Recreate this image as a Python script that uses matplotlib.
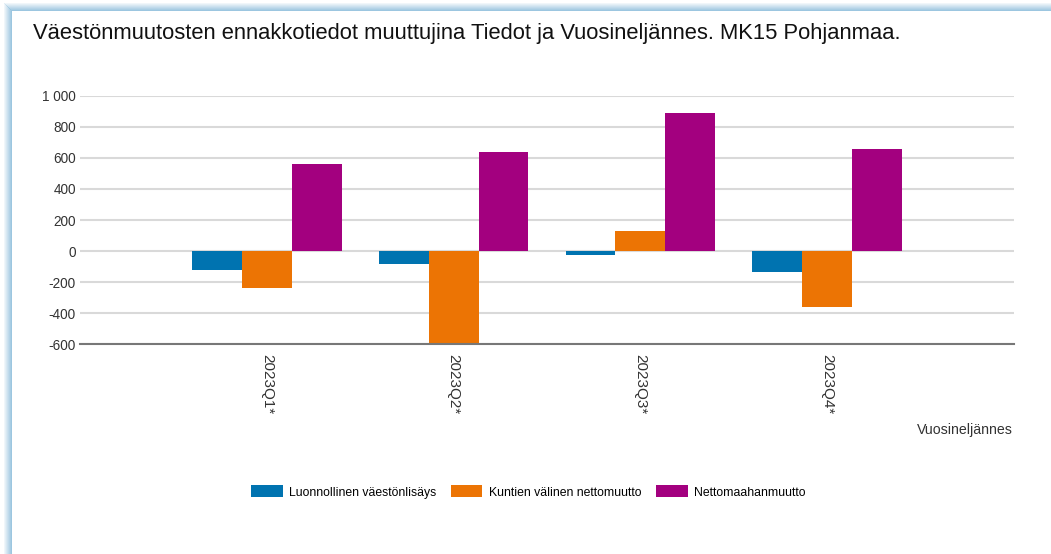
import numpy as np
import matplotlib.pyplot as plt
from matplotlib.patches import Rectangle

plt.rcParams['font.family'] = ['Liberation Sans', 'DejaVu Sans']

# Data
kvartaalit = ["2023Q1*", "2023Q2*", "2023Q3*", "2023Q4*"]
luonnollinen = [-122, -84, -26, -137]
kuntien_valinen = [-238, -600, 127, -363]
nettomaahanmuutto = [562, 637, 890, 659]
sarjat = ["Luonnollinen väestönlisäys", "Kuntien välinen nettomuutto", "Nettomaahanmuutto"]
varit = ["#0073b0", "#ec7404", "#a3007f"]

W, H = 1051, 554
fig = plt.figure(figsize=(W / 100, H / 100), dpi=100)

def px_rect(x, y, w, h, **kw):
    # pikselit vasemmasta yläkulmasta
    fig.patches.append(Rectangle((x / W, 1 - (y + h) / H), w / W, h / H,
                                 transform=fig.transFigure, lw=0, **kw))

# kehys: pehmeä sininen reuna vasemmalla ja ylhäällä
for i in range(8):
    a = 0.15 + 0.85 * i / 7
    px_rect(4 + i, 3 + i, 1, H, color="#9cc6e0", alpha=a)
    px_rect(4 + i, 3 + i, W, 1, color="#9cc6e0", alpha=a)

ax = fig.add_axes([80 / W, 1 - 344.3 / H, 934 / W, (344.3 - 95.7) / H])

x = np.arange(1, len(kvartaalit) + 1)
lev = 0.267
for j, (arvot, nimi, vari) in enumerate(zip([luonnollinen, kuntien_valinen, nettomaahanmuutto], sarjat, varit)):
    ax.bar(x + (j - 1) * lev, arvot, width=lev, color=vari, label=nimi, zorder=3)

ax.set_xlim(0, 5)
ax.set_ylim(-600, 1000)
yt = np.arange(-600, 1001, 200)
ax.set_yticks(yt)
ax.set_yticklabels([f"{v:,}".replace(",", " ") for v in yt], fontsize=9.8, color="#333333")
ax.set_xticks(x)
ax.set_xticklabels(kvartaalit, rotation=-90, fontsize=11, color="#333333", va="top")
ax.tick_params(length=0, pad=7)
ax.tick_params(axis="y", pad=3)
ax.grid(axis="y", color="#d9d9d9", lw=1.5, zorder=0)
for s in ["top", "right", "left"]:
    ax.spines[s].set_visible(False)
ax.spines["bottom"].set_color("#777777")
ax.spines["bottom"].set_linewidth(1.5)
ax.spines["bottom"].set_zorder(4)

fig.text(33 / W, 1 - 33 / H, "Väestönmuutosten ennakkotiedot muuttujina Tiedot ja Vuosineljännes. MK15 Pohjanmaa.",
         fontsize=15.8, va="center", ha="left", color="#111111")
fig.text(1013 / W, 1 - 430 / H, "Vuosineljännes", fontsize=10.2, ha="right", va="center", color="#333333")

fig.legend(loc="center", bbox_to_anchor=(528 / W, 1 - 492 / H), ncol=3, frameon=False,
           fontsize=8.8, handlelength=2.6, handleheight=1.1, columnspacing=1.2, handletextpad=0.5)

fig.savefig("out.png", dpi=100)
